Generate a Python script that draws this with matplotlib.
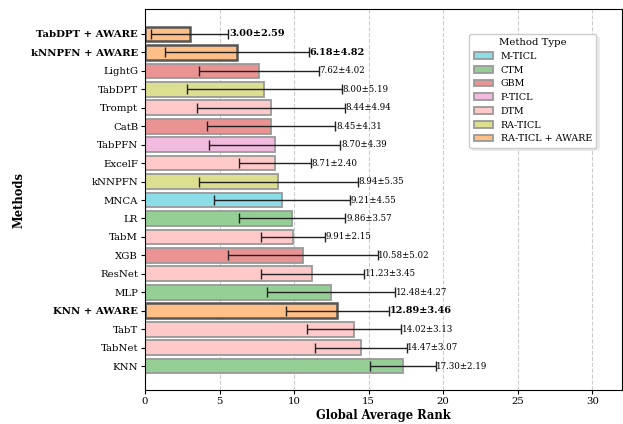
import numpy as np
import matplotlib
matplotlib.use("Agg")
import matplotlib.pyplot as plt
from matplotlib.patches import Patch

plt.rcParams['font.family'] = 'DejaVu Serif'

methods = ['TabDPT + AWARE', 'kNNPFN + AWARE', 'LightG', 'TabDPT', 'Trompt', 'CatB',
           'TabPFN', 'ExcelF', 'kNNPFN', 'MNCA', 'LR', 'TabM', 'XGB', 'ResNet', 'MLP',
           'KNN + AWARE', 'TabT', 'TabNet', 'KNN']
ranks = [3.00, 6.18, 7.62, 8.00, 8.44, 8.45, 8.70, 8.71, 8.94, 9.21, 9.86, 9.91,
         10.58, 11.23, 12.48, 12.89, 14.02, 14.47, 17.30]
stds = [2.59, 4.82, 4.02, 5.19, 4.94, 4.31, 4.39, 2.40, 5.35, 4.55, 3.57, 2.15,
        5.02, 3.45, 4.27, 3.46, 3.13, 3.07, 2.19]
types = ['RA-TICL + AWARE', 'RA-TICL + AWARE', 'GBM', 'RA-TICL', 'DTM', 'GBM',
         'P-TICL', 'DTM', 'RA-TICL', 'M-TICL', 'CTM', 'DTM', 'GBM', 'DTM', 'CTM',
         'RA-TICL + AWARE', 'DTM', 'DTM', 'CTM']

type_order = ['M-TICL', 'CTM', 'GBM', 'P-TICL', 'DTM', 'RA-TICL', 'RA-TICL + AWARE']
type_colors = {'M-TICL': '#8bdee7', 'CTM': '#95cf95', 'GBM': '#ea9393',
               'P-TICL': '#f1bbe0', 'DTM': '#ffc9c9', 'RA-TICL': '#dddf90',
               'RA-TICL + AWARE': '#ffbf86'}

fig = plt.figure(figsize=(6.23, 4.24), dpi=100)
ax = fig.add_axes([0.2327, 0.0802, 0.766, 0.8975])

y = np.arange(len(methods))
aware = ['AWARE' in m for m in methods]

for i in range(len(methods)):
    ax.barh(y[i], ranks[i], height=0.8, color=type_colors[types[i]],
            edgecolor='#555555' if aware[i] else '#999999',
            linewidth=1.8 if aware[i] else 1.3, zorder=2)

eb = ax.errorbar(ranks, y, xerr=stds, fmt='none', ecolor='#222222', elinewidth=1.0,
                 capsize=3.5, capthick=1.0, zorder=3)
for cap in eb[1]:
    cap.set_color('#5393d0')

for i in range(len(methods)):
    label = f'{ranks[i]:.2f}±{stds[i]:.2f}'
    ax.text(ranks[i] + stds[i] + 0.05, y[i], label, va='center', ha='left',
            fontsize=7.0 if aware[i] else 6.2,
            fontweight='bold' if aware[i] else 'normal', zorder=4)

ax.set_yticks(y)
ax.set_yticklabels(methods, fontsize=7.3)
for lbl, a in zip(ax.get_yticklabels(), aware):
    if a:
        lbl.set_fontweight('bold')
ax.set_ylim(len(methods) - 1 + 1.3, -1.33)
ax.set_xlim(0, 32)
ax.set_xticks([0, 5, 10, 15, 20, 25, 30])
ax.tick_params(axis='x', labelsize=7.3, length=3, pad=2)
ax.tick_params(axis='y', length=3, pad=2)
ax.xaxis.grid(True, linestyle='--', color='#cccccc', linewidth=0.8, zorder=0)
ax.set_axisbelow(True)

ax.set_xlabel('Global Average Rank', fontsize=8.3, fontweight='bold', labelpad=2)
ax.set_ylabel('Methods', fontsize=8.3, fontweight='bold', labelpad=4)

handles = [Patch(facecolor=type_colors[t], edgecolor='#999999', linewidth=1.3, label=t)
           for t in type_order]
ax.legend(handles=handles, title='Method Type', loc='upper right',
          bbox_to_anchor=(0.956, 0.948), fontsize=6.8, title_fontsize=7.3,
          shadow={'color': '#dddddd'}, framealpha=1.0, handlelength=2.1,
          handleheight=0.7, labelspacing=0.5, borderpad=0.45)

fig.savefig('out.png', dpi=100)
